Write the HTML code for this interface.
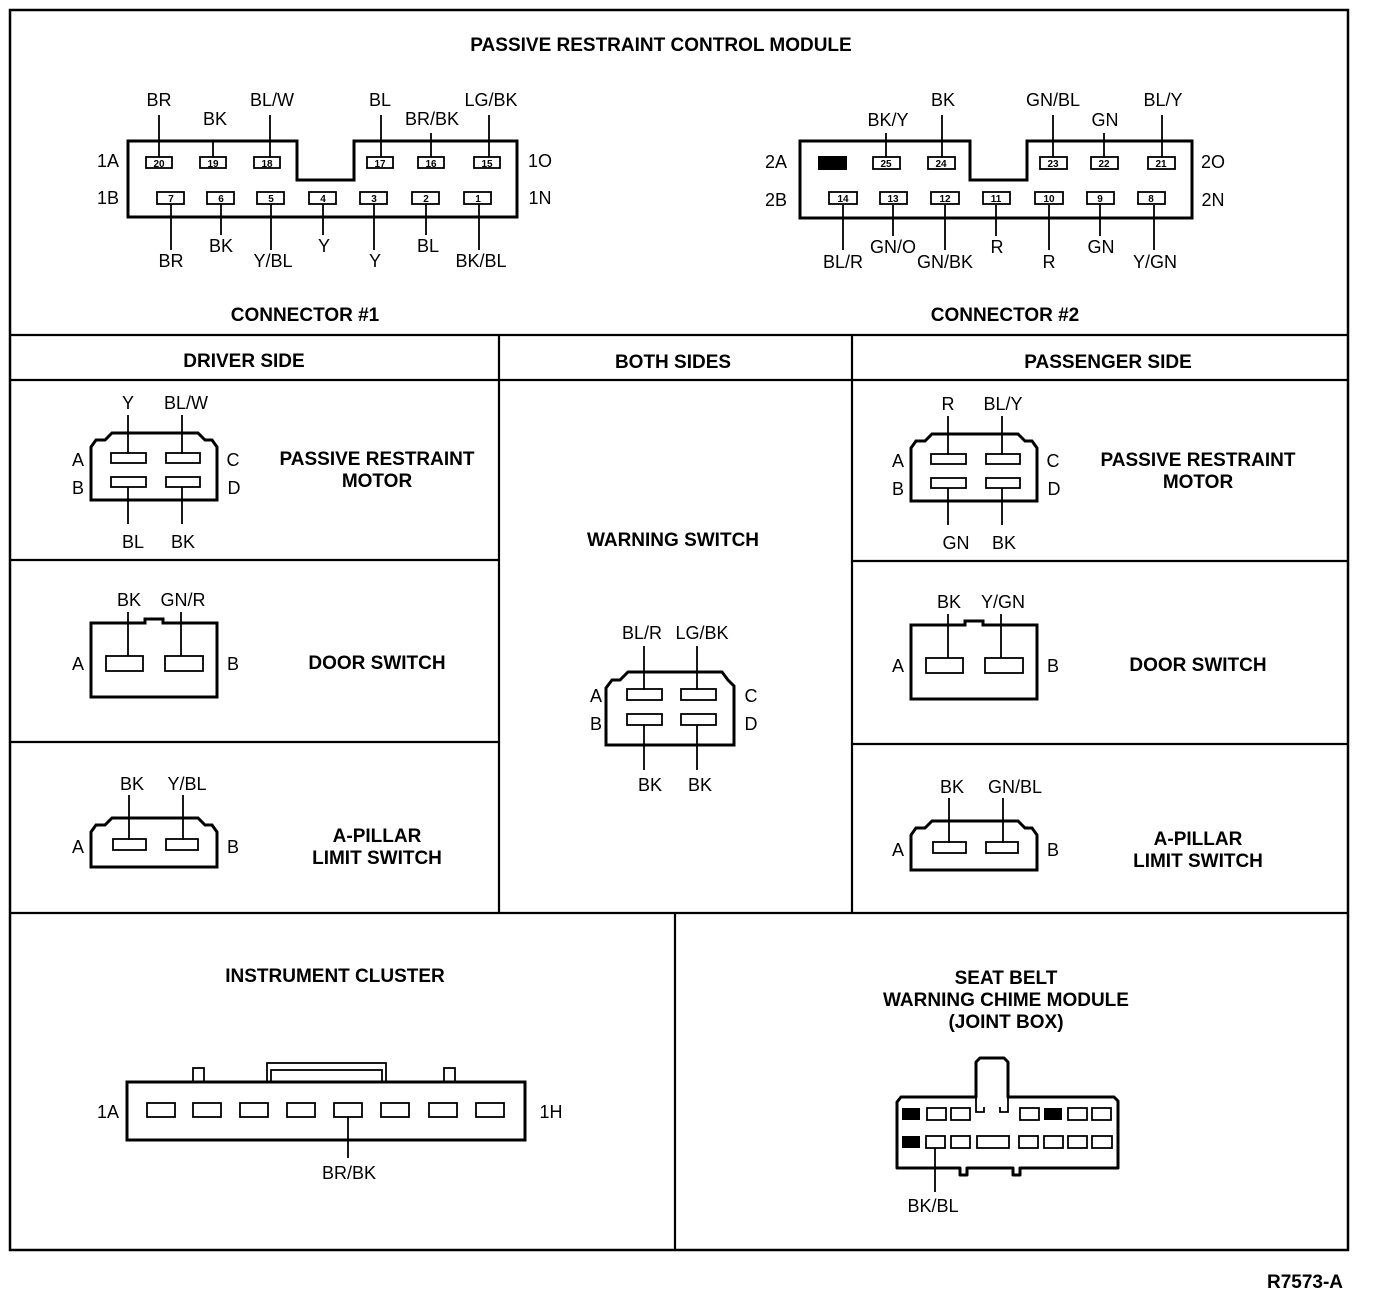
<!DOCTYPE html>
<html><head><meta charset="utf-8"><style>
html,body{margin:0;padding:0;background:#fff}
svg{display:block}
text{font-family:"Liberation Sans",Arial,sans-serif;font-size:18px;fill:#000}
.b{font-weight:bold;font-size:19px}
.p{fill:none;stroke:#000;stroke-width:1.8}
.o{fill:none;stroke:#000;stroke-width:3}
.w{stroke:#000;stroke-width:1.8}
.n{font-size:10px;font-weight:bold}
</style></head><body>
<svg width="1376" height="1296" viewBox="0 0 1376 1296" xmlns="http://www.w3.org/2000/svg">
<rect x="10" y="10" width="1338" height="1240" fill="none" stroke="#000" stroke-width="2.5"/>
<g stroke="#000" stroke-width="2.2">
<line x1="10" y1="335" x2="1348" y2="335"/>
<line x1="10" y1="380" x2="1348" y2="380"/>
<line x1="499" y1="335" x2="499" y2="913"/>
<line x1="852" y1="335" x2="852" y2="913"/>
<line x1="10" y1="560" x2="499" y2="560"/>
<line x1="852" y1="561" x2="1348" y2="561"/>
<line x1="10" y1="742" x2="499" y2="742"/>
<line x1="852" y1="744" x2="1348" y2="744"/>
<line x1="10" y1="913" x2="1348" y2="913"/>
<line x1="675" y1="913" x2="675" y2="1250"/>
</g>
<text class="b" x="661" y="51" text-anchor="middle">PASSIVE RESTRAINT CONTROL MODULE</text>
<text class="b" x="305" y="321" text-anchor="middle">CONNECTOR #1</text>
<text class="b" x="1005" y="321" text-anchor="middle">CONNECTOR #2</text>
<text class="b" x="244" y="367" text-anchor="middle">DRIVER SIDE</text>
<text class="b" x="673" y="368" text-anchor="middle">BOTH SIDES</text>
<text class="b" x="1108" y="368" text-anchor="middle">PASSENGER SIDE</text>
<text class="b" x="1305" y="1288" text-anchor="middle">R7573-A</text>

<path class="o" d="M128,141 H297 V180 H354 V141 H517 V217 H128 Z"/>
<g class="w">
<line x1="159" y1="115" x2="159" y2="157"/><line x1="213" y1="140" x2="213" y2="157"/><line x1="270" y1="115" x2="270" y2="157"/>
<line x1="381" y1="115" x2="381" y2="157"/><line x1="431" y1="133" x2="431" y2="157"/><line x1="489" y1="115" x2="489" y2="157"/>
<line x1="171" y1="204" x2="171" y2="250"/><line x1="221" y1="204" x2="221" y2="235"/><line x1="271" y1="204" x2="271" y2="250"/>
<line x1="323" y1="204" x2="323" y2="235"/><line x1="374" y1="204" x2="374" y2="250"/><line x1="426" y1="204" x2="426" y2="235"/><line x1="479" y1="204" x2="479" y2="250"/>
</g>
<g class="p">
<rect x="146" y="157" width="26" height="11" fill="#fff"/><rect x="200" y="157" width="26" height="11" fill="#fff"/><rect x="254" y="157" width="26" height="11" fill="#fff"/>
<rect x="367" y="157" width="26" height="11" fill="#fff"/><rect x="418" y="157" width="26" height="11" fill="#fff"/><rect x="474" y="157" width="26" height="11" fill="#fff"/>
<rect x="157" y="192" width="27" height="12" fill="#fff"/><rect x="207" y="192" width="27" height="12" fill="#fff"/><rect x="257" y="192" width="27" height="12" fill="#fff"/><rect x="309" y="192" width="27" height="12" fill="#fff"/><rect x="360" y="192" width="27" height="12" fill="#fff"/><rect x="412" y="192" width="27" height="12" fill="#fff"/><rect x="464" y="192" width="27" height="12" fill="#fff"/>
</g>
<g text-anchor="middle">
<text class="n" x="159" y="167">20</text><text class="n" x="213" y="167">19</text><text class="n" x="267" y="167">18</text><text class="n" x="380" y="167">17</text><text class="n" x="431" y="167">16</text><text class="n" x="487" y="167">15</text>
<text class="n" x="171" y="202">7</text><text class="n" x="221" y="202">6</text><text class="n" x="271" y="202">5</text><text class="n" x="323" y="202">4</text><text class="n" x="374" y="202">3</text><text class="n" x="426" y="202">2</text><text class="n" x="478" y="202">1</text>
<text x="159" y="106">BR</text><text x="215" y="125">BK</text><text x="272" y="106">BL/W</text><text x="380" y="106">BL</text><text x="432" y="125">BR/BK</text><text x="491" y="106">LG/BK</text>
<text x="171" y="267">BR</text><text x="221" y="252">BK</text><text x="273" y="267">Y/BL</text><text x="324" y="252">Y</text><text x="375" y="267">Y</text><text x="428" y="252">BL</text><text x="481" y="267">BK/BL</text>
<text x="108" y="167">1A</text><text x="108" y="204">1B</text><text x="540" y="167">1O</text><text x="540" y="204">1N</text>
</g>

<path class="o" d="M800,141 H970 V180 H1027 V141 H1192 V218 H800 Z"/>
<g class="w">
<line x1="886" y1="133" x2="886" y2="157"/><line x1="942" y1="115" x2="942" y2="157"/>
<line x1="1053" y1="115" x2="1053" y2="157"/><line x1="1104" y1="133" x2="1104" y2="157"/><line x1="1162" y1="115" x2="1162" y2="157"/>
<line x1="843" y1="205" x2="843" y2="250"/><line x1="893" y1="205" x2="893" y2="236"/><line x1="945" y1="205" x2="945" y2="250"/><line x1="996" y1="205" x2="996" y2="236"/><line x1="1049" y1="205" x2="1049" y2="250"/><line x1="1100" y1="205" x2="1100" y2="236"/><line x1="1154" y1="205" x2="1154" y2="250"/>
</g>
<rect x="818" y="156" width="29" height="14" fill="#000"/>
<g class="p">
<rect x="873" y="157" width="27" height="12" fill="#fff"/><rect x="928" y="157" width="27" height="12" fill="#fff"/>
<rect x="1040" y="157" width="27" height="12" fill="#fff"/><rect x="1091" y="157" width="27" height="12" fill="#fff"/><rect x="1148" y="157" width="27" height="12" fill="#fff"/>
<rect x="829" y="192" width="28" height="12" fill="#fff"/><rect x="880" y="192" width="27" height="12" fill="#fff"/><rect x="931" y="192" width="28" height="12" fill="#fff"/><rect x="983" y="192" width="27" height="12" fill="#fff"/><rect x="1035" y="192" width="28" height="12" fill="#fff"/><rect x="1087" y="192" width="27" height="12" fill="#fff"/><rect x="1138" y="192" width="27" height="12" fill="#fff"/>
</g>
<g text-anchor="middle">
<text class="n" x="886" y="167">25</text><text class="n" x="941" y="167">24</text><text class="n" x="1053" y="167">23</text><text class="n" x="1104" y="167">22</text><text class="n" x="1161" y="167">21</text>
<text class="n" x="843" y="202">14</text><text class="n" x="893" y="202">13</text><text class="n" x="945" y="202">12</text><text class="n" x="996" y="202">11</text><text class="n" x="1049" y="202">10</text><text class="n" x="1100" y="202">9</text><text class="n" x="1151" y="202">8</text>
<text x="888" y="126">BK/Y</text><text x="943" y="106">BK</text><text x="1053" y="106">GN/BL</text><text x="1105" y="126">GN</text><text x="1163" y="106">BL/Y</text>
<text x="843" y="268">BL/R</text><text x="893" y="253">GN/O</text><text x="945" y="268">GN/BK</text><text x="997" y="253">R</text><text x="1049" y="268">R</text><text x="1101" y="253">GN</text><text x="1155" y="268">Y/GN</text>
<text x="776" y="168">2A</text><text x="776" y="206">2B</text><text x="1213" y="168">2O</text><text x="1213" y="206">2N</text>
</g>

<path class="o" d="M91,500 V447 L96,440 L105,440 L112,433 H198 L205,440 L212,440 L217,447 V500 Z"/>
<line class="w" x1="128" y1="415" x2="128" y2="454"/><line class="w" x1="182" y1="415" x2="182" y2="454"/>
<line class="w" x1="128" y1="487" x2="128" y2="524"/><line class="w" x1="182" y1="487" x2="182" y2="524"/>
<rect class="p" x="111" y="453" width="35" height="10"/><rect class="p" x="166" y="453" width="34" height="10"/>
<rect class="p" x="111" y="477" width="35" height="10"/><rect class="p" x="166" y="477" width="34" height="10"/>
<g text-anchor="middle">
<text x="128" y="409">Y</text><text x="186" y="409">BL/W</text><text x="133" y="548">BL</text><text x="183" y="548">BK</text>
<text x="78" y="466">A</text><text x="78" y="494">B</text><text x="233" y="466">C</text><text x="234" y="494">D</text>
<text class="b" x="377" y="465">PASSIVE RESTRAINT</text><text class="b" x="377" y="487">MOTOR</text>
</g>
<path class="o" d="M91,623 H145 V619 H163 V623 H217 V697 H91 Z"/>
<line class="w" x1="128" y1="612" x2="128" y2="656"/><line class="w" x1="181" y1="612" x2="181" y2="656"/>
<rect class="p" x="106" y="656" width="37" height="15"/><rect class="p" x="165" y="656" width="38" height="15"/>
<g text-anchor="middle">
<text x="129" y="606">BK</text><text x="183" y="606">GN/R</text><text x="78" y="670">A</text><text x="233" y="670">B</text>
<text class="b" x="377" y="669">DOOR SWITCH</text>
</g>
<path class="o" d="M91,867 V832 L96,825 L105,825 L112,818 H198 L205,825 L212,825 L217,832 V867 Z"/>
<line class="w" x1="129" y1="795" x2="129" y2="840"/><line class="w" x1="183" y1="795" x2="183" y2="840"/>
<rect class="p" x="113" y="839" width="33" height="11"/><rect class="p" x="166" y="839" width="32" height="11"/>
<g text-anchor="middle">
<text x="132" y="790">BK</text><text x="187" y="790">Y/BL</text><text x="78" y="853">A</text><text x="233" y="853">B</text>
<text class="b" x="377" y="842">A-PILLAR</text><text class="b" x="377" y="864">LIMIT SWITCH</text>
</g>

<g transform="translate(820,1)">
<path class="o" d="M91,500 V447 L96,440 L105,440 L112,433 H198 L205,440 L212,440 L217,447 V500 Z"/>
<line class="w" x1="128" y1="415" x2="128" y2="454"/><line class="w" x1="182" y1="415" x2="182" y2="454"/>
<line class="w" x1="128" y1="487" x2="128" y2="524"/><line class="w" x1="182" y1="487" x2="182" y2="524"/>
<rect class="p" x="111" y="453" width="35" height="10"/><rect class="p" x="166" y="453" width="34" height="10"/>
<rect class="p" x="111" y="477" width="35" height="10"/><rect class="p" x="166" y="477" width="34" height="10"/>
<g text-anchor="middle">
<text x="128" y="409">R</text><text x="183" y="409">BL/Y</text><text x="136" y="548">GN</text><text x="184" y="548">BK</text>
<text x="78" y="466">A</text><text x="78" y="494">B</text><text x="233" y="466">C</text><text x="234" y="494">D</text>
<text class="b" x="378" y="465">PASSIVE RESTRAINT</text><text class="b" x="378" y="487">MOTOR</text>
</g>
</g>
<g transform="translate(820,2)">
<path class="o" d="M91,623 H145 V619 H163 V623 H217 V697 H91 Z"/>
<line class="w" x1="128" y1="612" x2="128" y2="656"/><line class="w" x1="181" y1="612" x2="181" y2="656"/>
<rect class="p" x="106" y="656" width="37" height="15"/><rect class="p" x="165" y="656" width="38" height="15"/>
<g text-anchor="middle">
<text x="129" y="606">BK</text><text x="183" y="606">Y/GN</text><text x="78" y="670">A</text><text x="233" y="670">B</text>
<text class="b" x="378" y="669">DOOR SWITCH</text>
</g>
</g>
<g transform="translate(820,3)">
<path class="o" d="M91,867 V832 L96,825 L105,825 L112,818 H198 L205,825 L212,825 L217,832 V867 Z"/>
<line class="w" x1="129" y1="795" x2="129" y2="840"/><line class="w" x1="183" y1="795" x2="183" y2="840"/>
<rect class="p" x="113" y="839" width="33" height="11"/><rect class="p" x="166" y="839" width="32" height="11"/>
<g text-anchor="middle">
<text x="132" y="790">BK</text><text x="195" y="790">GN/BL</text><text x="78" y="853">A</text><text x="233" y="853">B</text>
<text class="b" x="378" y="842">A-PILLAR</text><text class="b" x="378" y="864">LIMIT SWITCH</text>
</g>
</g>

<path class="o" d="M606,745 V688 L612,680 L620,680 L628,672 H722 L728,680 L734,686 V745 Z"/>
<line class="w" x1="644" y1="646" x2="644" y2="690"/><line class="w" x1="697" y1="646" x2="697" y2="690"/>
<line class="w" x1="644" y1="725" x2="644" y2="770"/><line class="w" x1="697" y1="725" x2="697" y2="770"/>
<rect class="p" x="627" y="689" width="35" height="11"/><rect class="p" x="681" y="689" width="35" height="11"/>
<rect class="p" x="627" y="714" width="35" height="11"/><rect class="p" x="681" y="714" width="35" height="11"/>
<g text-anchor="middle">
<text class="b" x="673" y="546">WARNING SWITCH</text>
<text x="642" y="639">BL/R</text><text x="702" y="639">LG/BK</text>
<text x="596" y="702">A</text><text x="596" y="730">B</text><text x="751" y="702">C</text><text x="751" y="730">D</text>
<text x="650" y="791">BK</text><text x="700" y="791">BK</text>
</g>

<text class="b" x="335" y="982" text-anchor="middle">INSTRUMENT CLUSTER</text>
<rect class="p" x="193" y="1068" width="11" height="14"/><rect class="p" x="444" y="1068" width="11" height="14"/>
<rect class="p" x="267" y="1063" width="119" height="19"/>
<rect class="p" x="271" y="1070" width="111" height="12"/>
<rect class="o" x="127" y="1082" width="398" height="58" fill="#fff"/>
<g class="p">
<rect x="147" y="1103" width="28" height="14"/><rect x="193" y="1103" width="28" height="14"/><rect x="240" y="1103" width="28" height="14"/><rect x="287" y="1103" width="28" height="14"/><rect x="334" y="1103" width="28" height="14"/><rect x="381" y="1103" width="28" height="14"/><rect x="429" y="1103" width="28" height="14"/><rect x="476" y="1103" width="28" height="14"/>
</g>
<line class="w" x1="348" y1="1117" x2="348" y2="1158"/>
<g text-anchor="middle"><text x="108" y="1118">1A</text><text x="551" y="1118">1H</text><text x="349" y="1179">BR/BK</text></g>

<g text-anchor="middle">
<text class="b" x="1006" y="984">SEAT BELT</text>
<text class="b" x="1006" y="1006">WARNING CHIME MODULE</text>
<text class="b" x="1006" y="1028">(JOINT BOX)</text>
<text x="933" y="1212">BK/BL</text>
</g>
<path class="o" d="M897,1168 V1102 L901,1097 H976 V1062 L980,1058 H1004 L1008,1062 V1097 H1114 L1118,1101 V1168 H1020 V1175 H1013 V1168 H967 V1175 H960 V1168 Z" stroke-linejoin="round"/>
<path class="p" d="M976,1097 V1112 H984 V1107 M1008,1097 V1112 H1000 V1107"/>
<rect x="902" y="1108" width="18" height="12" fill="#000"/>
<rect x="1044" y="1108" width="18" height="12" fill="#000"/>
<rect x="902" y="1136" width="18" height="12" fill="#000"/>
<g class="p">
<rect x="927" y="1108" width="19" height="12"/><rect x="951" y="1108" width="19" height="12"/>
<rect x="1020" y="1108" width="19" height="12"/><rect x="1068" y="1108" width="19" height="12"/><rect x="1092" y="1108" width="19" height="12"/>
<rect x="926" y="1136" width="19" height="12"/><rect x="951" y="1136" width="19" height="12"/><rect x="977" y="1136" width="32" height="12"/>
<rect x="1019" y="1136" width="19" height="12"/><rect x="1044" y="1136" width="19" height="12"/><rect x="1068" y="1136" width="19" height="12"/><rect x="1092" y="1136" width="20" height="12"/>
</g>
<line class="w" x1="935" y1="1148" x2="935" y2="1192"/>
</svg>
</body></html>
